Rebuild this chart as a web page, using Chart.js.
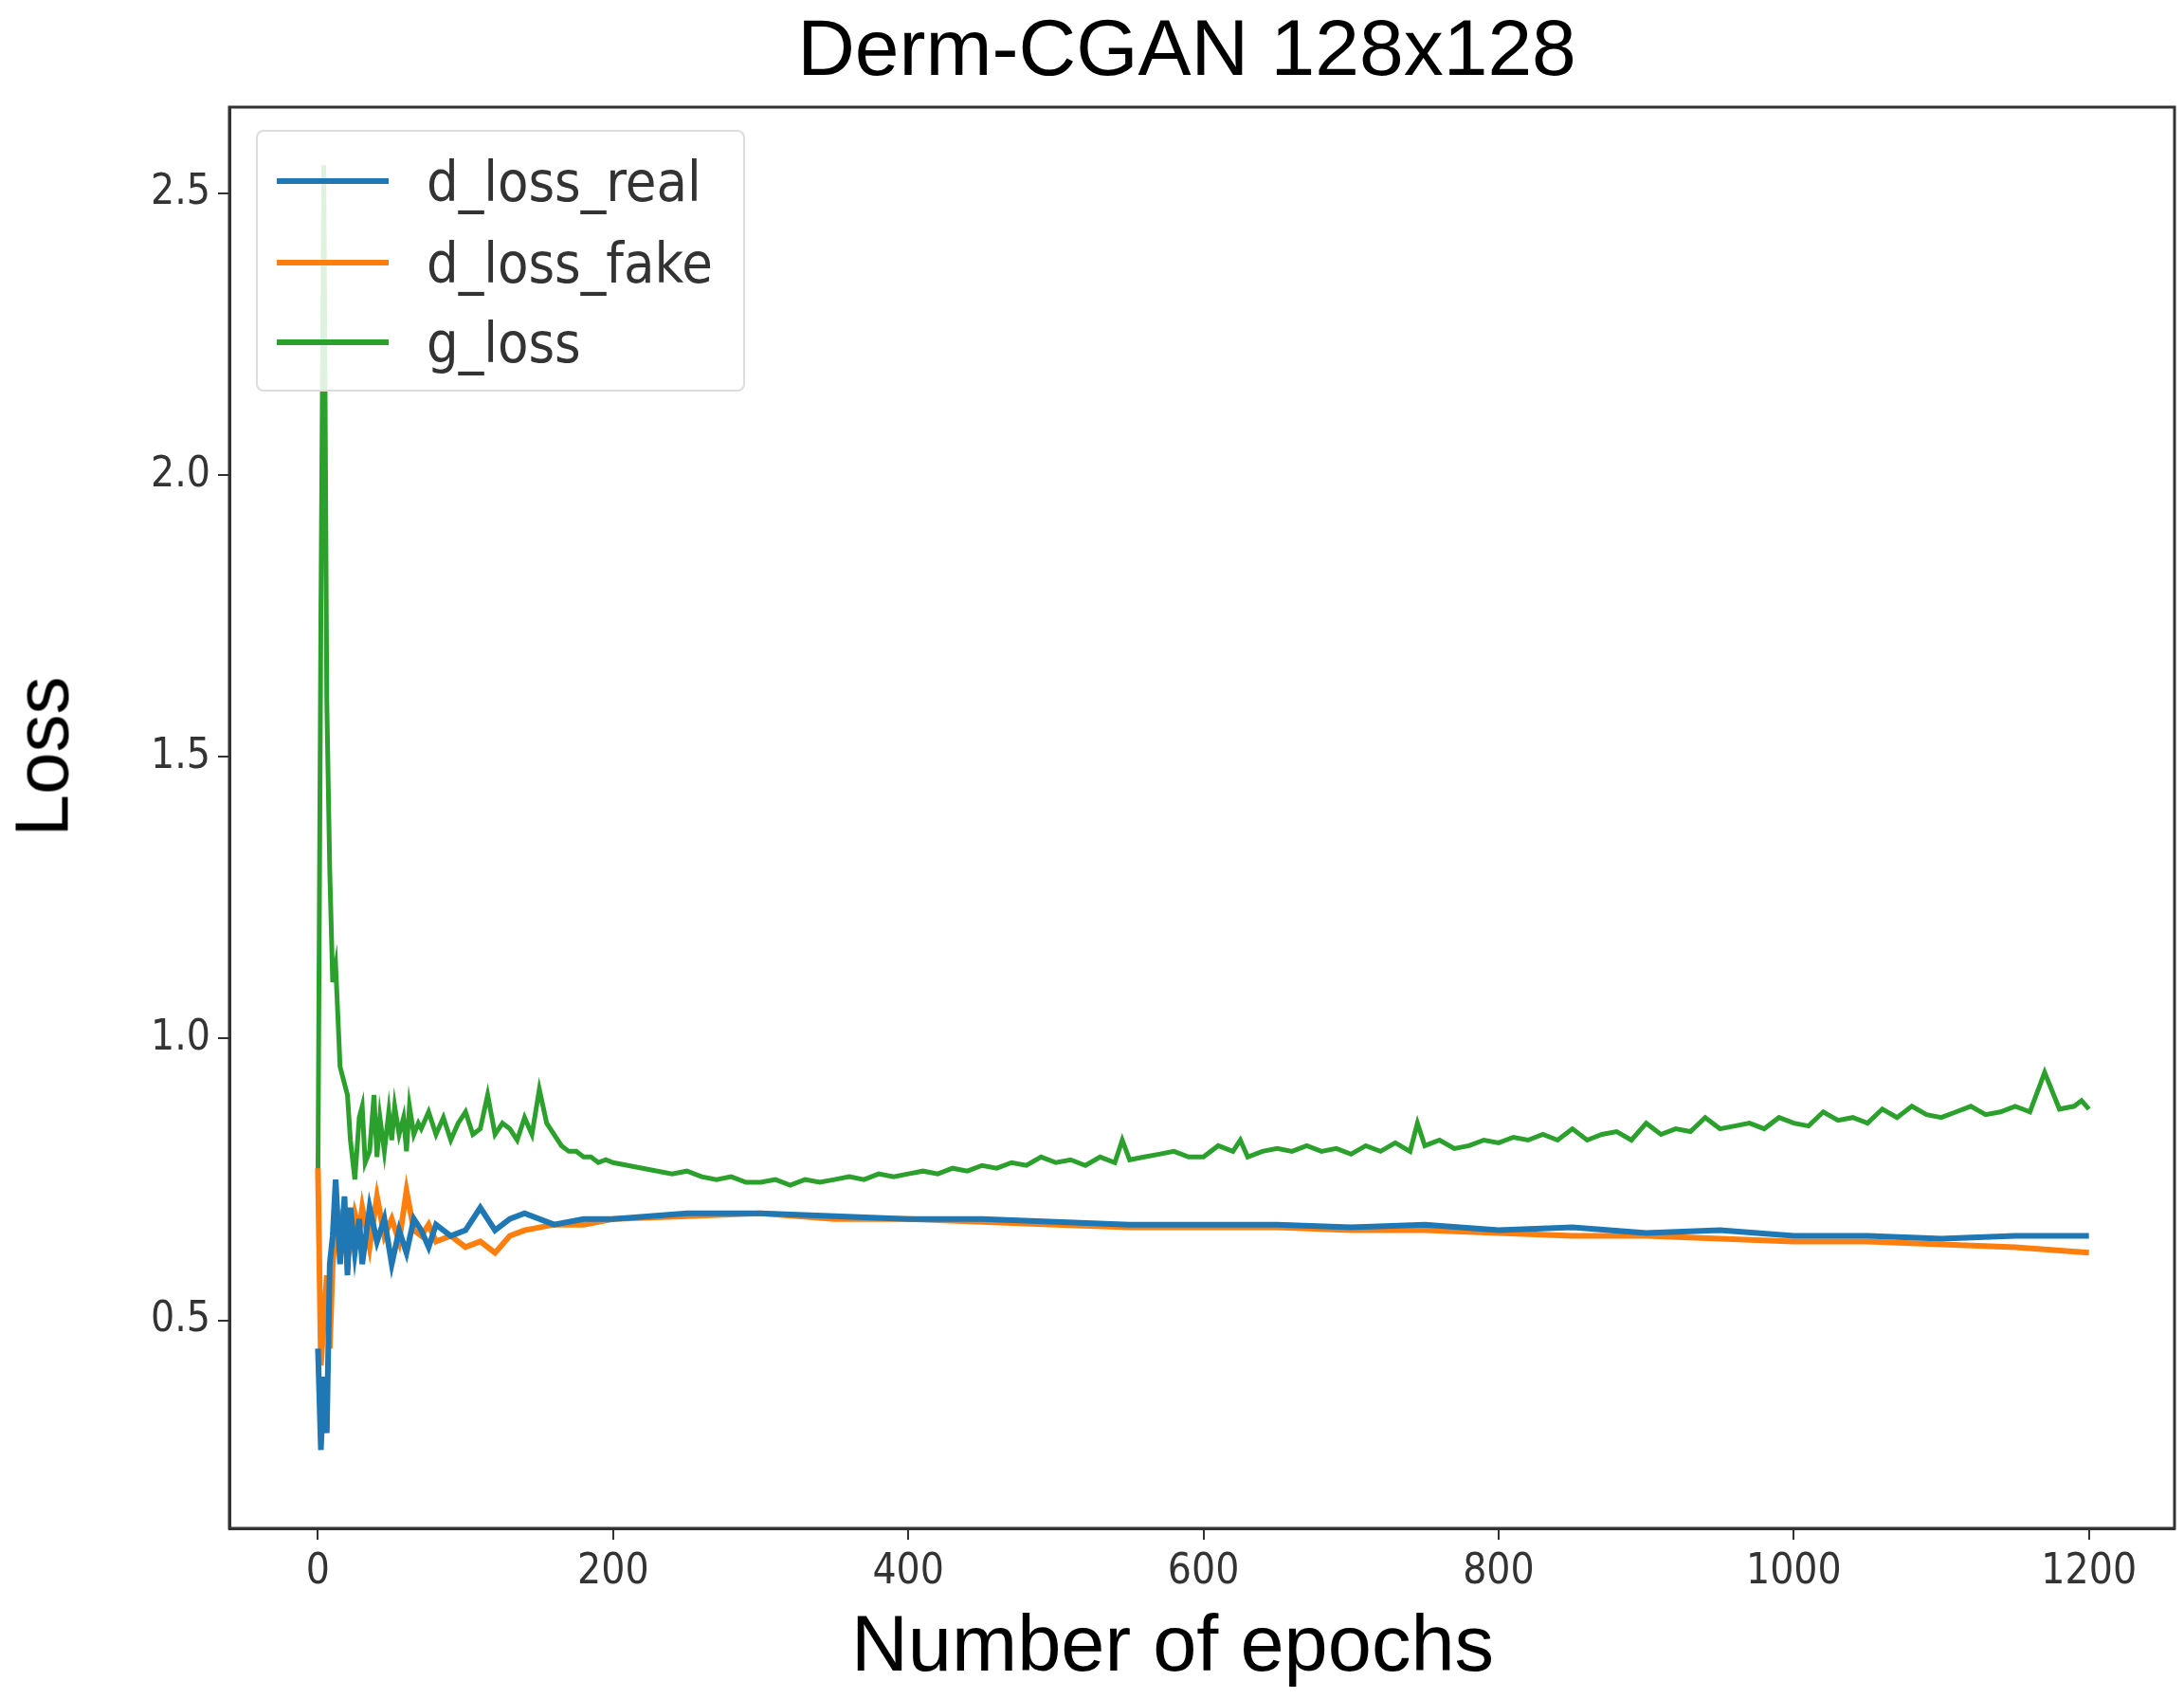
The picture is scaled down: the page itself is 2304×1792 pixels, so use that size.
<!DOCTYPE html>
<html><head><meta charset="utf-8">
<script src="https://cdn.jsdelivr.net/npm/chart.js@4"></script>
<style>
body{margin:0;background:#fff;}
#wrap{position:relative;width:2304px;height:1792px;}
#title{position:absolute;left:100px;width:2304px;top:2px;text-align:center;font:84px "Liberation Sans",Arial,sans-serif;color:#000;}
#xl{position:absolute;width:2304px;left:85px;top:1686px;text-align:center;font:83px "Liberation Sans",Arial,sans-serif;}
#yl{position:absolute;left:-40px;top:752px;transform:rotate(-90deg);font:80px "Liberation Sans",Arial,sans-serif;}
#leg{position:absolute;left:270px;top:137px;width:512px;height:272px;border:2px solid #ddd;border-radius:8px;background:rgba(255,255,255,0.85);font:59px "DejaVu Sans Condensed","DejaVu Sans",sans-serif;color:#333;}
.it{position:absolute;left:20px;height:60px;display:flex;align-items:center;}
.sw{width:118px;height:6px;margin-right:40px;}
</style></head><body>
<div id="wrap">
<canvas id="c" width="2304" height="1792" style="width:2304px;height:1792px"></canvas>
<div id="title">Derm-CGAN 128x128</div>
<div id="xl">Number of epochs</div>
<div id="yl">Loss</div>
<div id="leg">
<div class="it" style="top:22px"><div class="sw" style="background:#1f77b4"></div>d_loss_real</div>
<div class="it" style="top:108px"><div class="sw" style="background:#ff7f0e"></div>d_loss_fake</div>
<div class="it" style="top:192px"><div class="sw" style="background:#2ca02c"></div>g_loss</div>
</div>
</div>
<script>
const gEpochs=[0,2,4,6,8,10,12,15,18,20,22,25,28,30,32,35,38,40,42,45,48,50,52,55,58,60,62,65,68,70,75,80,85,90,95,100,105,110,115,120,125,130,135,140,145,150,155,160,165,170,175,180,185,190,195,
200,210,220,230,240,250,260,270,280,290,300,310,320,330,340,350,360,370,380,390,400,410,420,430,440,450,460,470,480,490,500,510,520,530,540,545,550,560,570,580,590,600,610,620,625,630,640,650,660,670,680,690,700,710,720,730,740,745,750,760,770,780,790,800,810,820,830,840,850,860,870,880,890,900,910,920,930,940,950,960,970,980,990,1000,1010,1020,1030,1040,1050,1060,1070,1080,1090,1100,1110,1120,1130,1140,1150,1155,1160,1170,1180,1190,1195,1200];
const gLoss=[0.75,1.75,2.55,1.6,1.3,1.1,1.13,0.95,0.92,0.9,0.82,0.75,0.86,0.88,0.78,0.8,0.9,0.79,0.86,0.8,0.87,0.82,0.88,0.83,0.86,0.8,0.88,0.83,0.85,0.84,0.87,0.83,0.86,0.82,0.85,0.87,0.83,0.84,0.9,0.83,0.85,0.84,0.82,0.86,0.83,0.91,0.85,0.83,0.81,0.8,0.8,0.79,0.79,0.78,0.785,
0.78,0.775,0.77,0.765,0.76,0.765,0.755,0.75,0.755,0.745,0.745,0.75,0.74,0.75,0.745,0.75,0.755,0.75,0.76,0.755,0.76,0.765,0.76,0.77,0.765,0.775,0.77,0.78,0.775,0.79,0.78,0.785,0.775,0.79,0.78,0.82,0.785,0.79,0.795,0.8,0.79,0.79,0.81,0.8,0.82,0.79,0.8,0.805,0.8,0.81,0.8,0.805,0.795,0.81,0.8,0.815,0.8,0.85,0.81,0.82,0.805,0.81,0.82,0.815,0.825,0.82,0.83,0.82,0.84,0.82,0.83,0.835,0.82,0.85,0.83,0.84,0.835,0.86,0.84,0.845,0.85,0.84,0.86,0.85,0.845,0.87,0.855,0.86,0.85,0.875,0.86,0.88,0.865,0.86,0.87,0.88,0.865,0.87,0.88,0.875,0.87,0.94,0.875,0.88,0.89,0.875,0.92,0.88,0.88];
const dEpochs=[0,2,4,6,8,10,12,15,18,20,22,25,28,30,35,40,45,50,55,60,65,70,75,80,90,100,110,120,130,140,160,180,200,250,300,350,400,450,500,550,600,650,700,750,800,850,900,950,1000,1050,1100,1150,1200];
const dLossReal=[0.45,0.27,0.4,0.3,0.6,0.65,0.75,0.6,0.72,0.58,0.7,0.62,0.68,0.6,0.7,0.64,0.68,0.6,0.66,0.62,0.68,0.66,0.63,0.67,0.65,0.66,0.7,0.66,0.68,0.69,0.67,0.68,0.68,0.69,0.69,0.685,0.68,0.68,0.675,0.67,0.67,0.67,0.665,0.67,0.66,0.665,0.655,0.66,0.65,0.65,0.645,0.65,0.65];
const dLossFake=[0.77,0.42,0.5,0.58,0.45,0.6,0.66,0.68,0.62,0.7,0.64,0.69,0.66,0.7,0.63,0.72,0.65,0.68,0.64,0.73,0.66,0.65,0.67,0.64,0.65,0.63,0.64,0.62,0.65,0.66,0.67,0.67,0.68,0.685,0.69,0.68,0.68,0.675,0.67,0.665,0.665,0.665,0.66,0.66,0.655,0.65,0.65,0.645,0.64,0.64,0.635,0.63,0.62];
const xTicks=[0,200,400,600,800,1000,1200];
const yTicks=[0.5,1.0,1.5,2.0,2.5];
const pts=(xs,ys)=>xs.map((x,i)=>({x,y:ys[i]}));
const frame={id:'frame',afterDraw(c){const a=c.chartArea,ctx=c.ctx;ctx.save();ctx.strokeStyle='#333';ctx.lineWidth=3;ctx.strokeRect(a.left,a.top,a.right-a.left,a.bottom-a.top);ctx.restore();}};
new Chart(document.getElementById('c'),{type:'line',
data:{datasets:[
{label:'d_loss_real',data:pts(dEpochs,dLossReal),borderColor:'#1f77b4',borderWidth:6,pointRadius:0,tension:0},
{label:'d_loss_fake',data:pts(dEpochs,dLossFake),borderColor:'#ff7f0e',borderWidth:6,pointRadius:0,tension:0},
{label:'g_loss',data:pts(gEpochs,gLoss),borderColor:'#2ca02c',borderWidth:5,pointRadius:0,tension:0}]},
options:{responsive:false,animation:false,devicePixelRatio:1,
layout:{padding:{top:113,right:10,left:0,bottom:0}},
plugins:{legend:{display:false},tooltip:{enabled:false}},
scales:{
x:{type:'linear',min:-60,max:1258,afterBuildTicks:s=>{s.ticks=xTicks.map(v=>({value:v}));},
afterFit:s=>{s.height=180;},
grid:{drawOnChartArea:false,tickLength:12,color:'#333',lineWidth:2},border:{color:'#333',width:3},
ticks:{font:{size:44,family:'DejaVu Sans Condensed'},color:'#333',padding:8,maxRotation:0,callback:v=>String(v)}},
y:{min:0.131,max:2.653,afterBuildTicks:s=>{s.ticks=yTicks.map(v=>({value:v}));},
afterFit:s=>{s.width=242;},
grid:{drawOnChartArea:false,tickLength:12,color:'#333',lineWidth:2},border:{color:'#333',width:3},
ticks:{font:{size:44,family:'DejaVu Sans Condensed'},color:'#333',padding:8,callback:v=>v.toFixed(1)}}}},
plugins:[frame]});
</script></body></html>
